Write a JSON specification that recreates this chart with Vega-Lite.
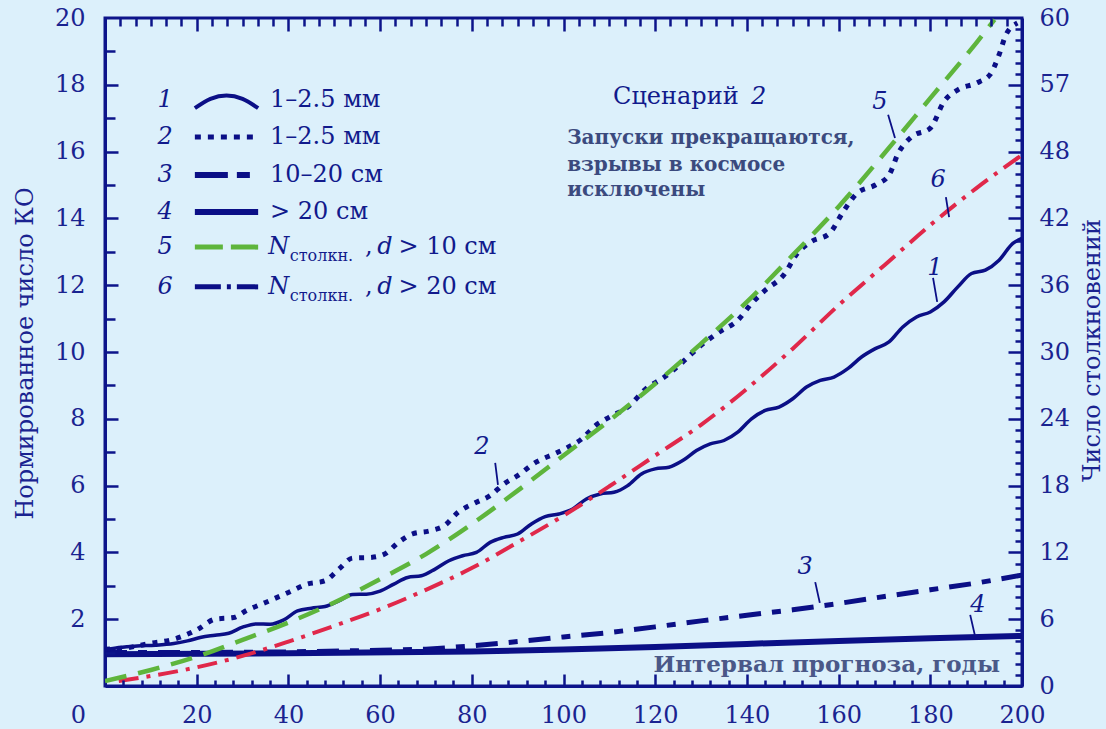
{
  "$schema": "https://vega.github.io/schema/vega-lite/v6.json",
  "width": 917,
  "height": 668,
  "autosize": "none",
  "padding": {"left": 105, "top": 18, "right": 84, "bottom": 43},
  "background": "#dcf0fb",
  "config": {
    "view": {"stroke": "#0d148a", "strokeWidth": 3},
    "text": {"font": "DejaVu Serif", "fill": "#111a8c"},
    "axis": {"labelFont": "DejaVu Serif", "titleFont": "DejaVu Serif", "tickColor": "#0d148a", "tickWidth": 2.5, "tickOpacity": 1, "domainColor": "#0d148a", "domainWidth": 3, "grid": false}
  },
  "datasets": {
    "curves": [
      {"s":1,"x":0,"y":1.08},{"s":1,"x":3,"y":1.15},{"s":1,"x":7,"y":1.2},{"s":1,"x":11,"y":1.22},{"s":1,"x":15,"y":1.27},{"s":1,"x":18,"y":1.35},{"s":1,"x":21,"y":1.46},{"s":1,"x":24,"y":1.52},{"s":1,"x":27,"y":1.58},{"s":1,"x":30,"y":1.76},{"s":1,"x":33,"y":1.86},{"s":1,"x":36,"y":1.85},{"s":1,"x":39,"y":1.98},{"s":1,"x":42,"y":2.25},{"s":1,"x":45,"y":2.33},{"s":1,"x":48,"y":2.38},{"s":1,"x":51,"y":2.55},{"s":1,"x":54,"y":2.74},{"s":1,"x":57,"y":2.75},{"s":1,"x":60,"y":2.84},{"s":1,"x":63,"y":3.05},{"s":1,"x":66,"y":3.25},{"s":1,"x":69,"y":3.3},{"s":1,"x":72,"y":3.5},{"s":1,"x":75,"y":3.75},{"s":1,"x":78,"y":3.9},{"s":1,"x":81,"y":4.0},{"s":1,"x":84,"y":4.3},{"s":1,"x":87,"y":4.45},{"s":1,"x":90,"y":4.55},{"s":1,"x":93,"y":4.85},{"s":1,"x":96,"y":5.07},{"s":1,"x":99,"y":5.15},{"s":1,"x":102,"y":5.3},{"s":1,"x":105,"y":5.6},{"s":1,"x":108,"y":5.75},{"s":1,"x":111,"y":5.8},{"s":1,"x":114,"y":6.0},{"s":1,"x":117,"y":6.35},{"s":1,"x":120,"y":6.5},{"s":1,"x":123,"y":6.55},{"s":1,"x":126,"y":6.75},{"s":1,"x":129,"y":7.05},{"s":1,"x":132,"y":7.25},{"s":1,"x":135,"y":7.35},{"s":1,"x":138,"y":7.6},{"s":1,"x":141,"y":8.0},{"s":1,"x":144,"y":8.25},{"s":1,"x":147,"y":8.35},{"s":1,"x":150,"y":8.6},{"s":1,"x":153,"y":8.95},{"s":1,"x":156,"y":9.15},{"s":1,"x":159,"y":9.25},{"s":1,"x":162,"y":9.5},{"s":1,"x":165,"y":9.85},{"s":1,"x":168,"y":10.1},{"s":1,"x":171,"y":10.3},{"s":1,"x":174,"y":10.75},{"s":1,"x":177,"y":11.05},{"s":1,"x":180,"y":11.2},{"s":1,"x":183,"y":11.5},{"s":1,"x":186,"y":11.95},{"s":1,"x":189,"y":12.35},{"s":1,"x":192,"y":12.45},{"s":1,"x":195,"y":12.75},{"s":1,"x":198,"y":13.25},{"s":1,"x":200,"y":13.4},
      {"s":2,"x":0,"y":1.1},{"s":2,"x":5,"y":1.15},{"s":2,"x":10,"y":1.28},{"s":2,"x":15,"y":1.4},{"s":2,"x":20,"y":1.68},{"s":2,"x":24,"y":2.0},{"s":2,"x":28,"y":2.05},{"s":2,"x":31,"y":2.27},{"s":2,"x":35,"y":2.5},{"s":2,"x":40,"y":2.8},{"s":2,"x":44,"y":3.05},{"s":2,"x":48,"y":3.15},{"s":2,"x":51,"y":3.5},{"s":2,"x":54,"y":3.83},{"s":2,"x":58,"y":3.85},{"s":2,"x":61,"y":3.95},{"s":2,"x":64,"y":4.3},{"s":2,"x":67,"y":4.55},{"s":2,"x":71,"y":4.65},{"s":2,"x":74,"y":4.8},{"s":2,"x":77,"y":5.2},{"s":2,"x":81,"y":5.5},{"s":2,"x":84,"y":5.7},{"s":2,"x":87,"y":6.05},{"s":2,"x":90,"y":6.3},{"s":2,"x":94,"y":6.7},{"s":2,"x":98,"y":6.95},{"s":2,"x":101,"y":7.15},{"s":2,"x":104,"y":7.4},{"s":2,"x":107,"y":7.8},{"s":2,"x":110,"y":8.05},{"s":2,"x":114,"y":8.35},{"s":2,"x":118,"y":8.9},{"s":2,"x":122,"y":9.25},{"s":2,"x":126,"y":9.7},{"s":2,"x":130,"y":10.2},{"s":2,"x":134,"y":10.6},{"s":2,"x":138,"y":10.95},{"s":2,"x":141,"y":11.45},{"s":2,"x":144,"y":11.85},{"s":2,"x":148,"y":12.3},{"s":2,"x":151,"y":12.95},{"s":2,"x":154,"y":13.3},{"s":2,"x":158,"y":13.55},{"s":2,"x":161,"y":14.2},{"s":2,"x":164,"y":14.75},{"s":2,"x":168,"y":15.0},{"s":2,"x":171,"y":15.3},{"s":2,"x":173,"y":15.95},{"s":2,"x":176,"y":16.45},{"s":2,"x":180,"y":16.7},{"s":2,"x":183,"y":17.5},{"s":2,"x":186,"y":17.85},{"s":2,"x":190,"y":18.05},{"s":2,"x":193,"y":18.3},{"s":2,"x":195,"y":18.9},{"s":2,"x":196.5,"y":19.5},{"s":2,"x":199,"y":19.85},
      {"s":3,"x":0,"y":1.0},{"s":3,"x":20,"y":1.0},{"s":3,"x":40,"y":1.02},{"s":3,"x":60,"y":1.07},{"s":3,"x":70,"y":1.1},{"s":3,"x":80,"y":1.2},{"s":3,"x":90,"y":1.33},{"s":3,"x":100,"y":1.47},{"s":3,"x":110,"y":1.6},{"s":3,"x":120,"y":1.77},{"s":3,"x":130,"y":1.95},{"s":3,"x":140,"y":2.12},{"s":3,"x":150,"y":2.28},{"s":3,"x":160,"y":2.47},{"s":3,"x":170,"y":2.68},{"s":3,"x":180,"y":2.88},{"s":3,"x":190,"y":3.08},{"s":3,"x":200,"y":3.32},
      {"s":4,"x":0,"y":0.95},{"s":4,"x":40,"y":0.98},{"s":4,"x":80,"y":1.03},{"s":4,"x":100,"y":1.09},{"s":4,"x":120,"y":1.17},{"s":4,"x":140,"y":1.26},{"s":4,"x":160,"y":1.35},{"s":4,"x":180,"y":1.43},{"s":4,"x":200,"y":1.5},
      {"s":5,"x":0,"y":0.15},{"s":5,"x":10,"y":0.48},{"s":5,"x":20,"y":0.88},{"s":5,"x":30,"y":1.38},{"s":5,"x":40,"y":1.9},{"s":5,"x":50,"y":2.5},{"s":5,"x":60,"y":3.2},{"s":5,"x":70,"y":3.95},{"s":5,"x":80,"y":4.85},{"s":5,"x":90,"y":5.85},{"s":5,"x":100,"y":6.9},{"s":5,"x":110,"y":7.95},{"s":5,"x":120,"y":9.05},{"s":5,"x":130,"y":10.25},{"s":5,"x":140,"y":11.5},{"s":5,"x":150,"y":12.9},{"s":5,"x":160,"y":14.35},{"s":5,"x":170,"y":15.95},{"s":5,"x":180,"y":17.6},{"s":5,"x":190,"y":19.25},{"s":5,"x":194,"y":19.95},
      {"s":6,"x":3,"y":0.15},{"s":6,"x":10,"y":0.3},{"s":6,"x":20,"y":0.56},{"s":6,"x":30,"y":0.9},{"s":6,"x":40,"y":1.33},{"s":6,"x":50,"y":1.8},{"s":6,"x":60,"y":2.3},{"s":6,"x":70,"y":2.88},{"s":6,"x":80,"y":3.53},{"s":6,"x":90,"y":4.3},{"s":6,"x":100,"y":5.1},{"s":6,"x":110,"y":5.98},{"s":6,"x":120,"y":6.9},{"s":6,"x":130,"y":7.82},{"s":6,"x":140,"y":8.9},{"s":6,"x":150,"y":10.1},{"s":6,"x":160,"y":11.4},{"s":6,"x":170,"y":12.6},{"s":6,"x":180,"y":13.8},{"s":6,"x":190,"y":14.9},{"s":6,"x":200,"y":15.9}
    ],
    "legendLines": [
      {"s":1,"x":19.6,"y":17.3},{"s":1,"x":23,"y":17.58},{"s":1,"x":26.5,"y":17.68},{"s":1,"x":30,"y":17.58},{"s":1,"x":33.4,"y":17.3},
      {"s":2,"x":19.6,"y":16.44},{"s":2,"x":33.4,"y":16.44},
      {"s":3,"x":19.6,"y":15.3},{"s":3,"x":33.4,"y":15.3},
      {"s":4,"x":19.6,"y":14.19},{"s":4,"x":33.4,"y":14.19},
      {"s":5,"x":19.6,"y":13.14},{"s":5,"x":33.4,"y":13.14},
      {"s":6,"x":19.6,"y":11.95},{"s":6,"x":33.4,"y":11.95}
    ],
    "italicNums": [
      {"x":13.1,"y":17.54,"t":"1"},{"x":13.1,"y":16.44,"t":"2"},{"x":13.1,"y":15.3,"t":"3"},{"x":13.1,"y":14.19,"t":"4"},{"x":13.1,"y":13.14,"t":"5"},{"x":13.1,"y":11.95,"t":"6"},
      {"x":181.0,"y":12.51,"t":"1"},{"x":82.2,"y":7.16,"t":"2"},{"x":152.7,"y":3.56,"t":"3"},{"x":190.4,"y":2.43,"t":"4"},{"x":169.0,"y":17.49,"t":"5"},{"x":181.7,"y":15.15,"t":"6"}
    ],
    "leaders": [
      {"x":180.6,"y":12.22,"x2":181.5,"y2":11.5},
      {"x":170.8,"y":17.1,"x2":172.3,"y2":16.41},
      {"x":183.4,"y":14.64,"x2":184.1,"y2":14.04},
      {"x":85.1,"y":6.68,"x2":85.7,"y2":6.02},
      {"x":154.9,"y":3.11,"x2":155.9,"y2":2.49},
      {"x":188.7,"y":2.13,"x2":189.7,"y2":1.53}
    ],
    "legendText": [
      {"x":36.0,"y":17.54,"t":"1–2.5 мм"},
      {"x":36.0,"y":16.44,"t":"1–2.5 мм"},
      {"x":36.0,"y":15.3,"t":"10–20 см"},
      {"x":36.0,"y":14.19,"t":"> 20 см"},
      {"x":56.7,"y":13.14,"t":","},
      {"x":64.0,"y":13.14,"t":"> 10 см"},
      {"x":56.7,"y":11.95,"t":","},
      {"x":64.0,"y":11.95,"t":"> 20 см"}
    ],
    "titleText": [
      {"x":110.8,"y":17.63,"t":"Сценарий"}
    ],
    "titleItalic": [
      {"x":140.9,"y":17.63,"t":"2"}
    ],
    "legendItalic": [
      {"x":35.6,"y":13.14,"t":"N"},
      {"x":59.4,"y":13.14,"t":"d"},
      {"x":35.6,"y":11.95,"t":"N"},
      {"x":59.4,"y":11.95,"t":"d"}
    ],
    "legendSub": [
      {"x":40.3,"y":13.14,"t":"столкн."},
      {"x":40.3,"y":11.95,"t":"столкн."}
    ],
    "notes": [
      {"x":100.8,"y":16.41,"t":"Запуски прекращаются,"},
      {"x":100.8,"y":15.6,"t":"взрывы в космосе"},
      {"x":100.8,"y":14.85,"t":"исключены"}
    ],
    "xTitle": [
      {"x":195.2,"y":0.63,"t":"Интервал прогноза, годы"}
    ]
  },
  "layer": [
    {
      "data": {"name": "curves"},
      "encoding": {
        "x": {
          "field": "x", "type": "quantitative",
          "scale": {"domain": [0, 200], "nice": false, "zero": false},
          "axis": {
            "orient": "bottom",
            "values": [0,20,40,60,80,100,120,140,160,180,200],
            "ticks": false,
            "labelFontSize": 24, "labelColor": "#1a2390",
            "labelPadding": 17, "labelBaseline": "top",
            "labelOffset": {"condition": {"test": "datum.value == 0", "value": -27}, "value": 0},
            "labelFlush": false, "labelOverlap": false, "labelBound": false,
            "title": null
          }
        },
        "y": {
          "field": "y", "type": "quantitative",
          "scale": {"domain": [0, 20], "nice": false, "zero": false},
          "axis": {
            "orient": "left",
            "values": [2,4,6,8,10,12,14,16,18,20],
            "ticks": false,
            "labelFontSize": 24, "labelColor": "#1a2390",
            "labelPadding": 20, "labelFlush": false, "labelOverlap": false, "labelBound": false,
            "title": "Нормированное число КО",
            "titleFontSize": 24, "titleFontWeight": "normal",
            "titleColor": "#1a2390", "titleX": -80, "titleY": 335, "titleAlign": "center", "titleBaseline": "middle", "titleAngle": 270
          }
        }
      },
      "layer": [
        {"transform": [{"filter": "datum.s == 4"}], "mark": {"type": "line", "stroke": "#0b0f86", "strokeWidth": 6}},
        {"transform": [{"filter": "datum.s == 3"}], "mark": {"type": "line", "stroke": "#0b0f86", "strokeWidth": 5, "strokeDash": [22, 11, 9, 11]}},
        {"transform": [{"filter": "datum.s == 1"}], "mark": {"type": "line", "stroke": "#0b0f86", "strokeWidth": 3.5, "interpolate": "monotone"}},
        {"transform": [{"filter": "datum.s == 2"}], "mark": {"type": "line", "stroke": "#0b0f86", "strokeWidth": 5, "strokeDash": [5, 7], "interpolate": "monotone"}},
        {"transform": [{"filter": "datum.s == 6"}], "mark": {"type": "line", "stroke": "#e0284a", "strokeWidth": 4, "strokeDash": [20, 8, 4, 8], "interpolate": "monotone"}},
        {"transform": [{"filter": "datum.s == 5"}], "mark": {"type": "line", "stroke": "#5eb53c", "strokeWidth": 4.5, "strokeDash": [22, 12], "interpolate": "monotone", "clip": true}},
        {"data": {"name": "legendLines"}, "transform": [{"filter": "datum.s == 1"}], "mark": {"type": "line", "stroke": "#0b0f86", "strokeWidth": 4, "interpolate": "monotone"}},
        {"data": {"name": "legendLines"}, "transform": [{"filter": "datum.s == 2"}], "mark": {"type": "line", "stroke": "#0b0f86", "strokeWidth": 5, "strokeDash": [6, 7]}},
        {"data": {"name": "legendLines"}, "transform": [{"filter": "datum.s == 3"}], "mark": {"type": "line", "stroke": "#0b0f86", "strokeWidth": 6, "strokeDash": [33, 9, 13, 100]}},
        {"data": {"name": "legendLines"}, "transform": [{"filter": "datum.s == 4"}], "mark": {"type": "line", "stroke": "#0b0f86", "strokeWidth": 6}},
        {"data": {"name": "legendLines"}, "transform": [{"filter": "datum.s == 5"}], "mark": {"type": "line", "stroke": "#5eb53c", "strokeWidth": 5, "strokeDash": [28, 8]}},
        {"data": {"name": "legendLines"}, "transform": [{"filter": "datum.s == 6"}], "mark": {"type": "line", "stroke": "#0b0f86", "strokeWidth": 5, "strokeDash": [26, 6, 4, 6]}},
        {"data": {"name": "leaders"}, "mark": {"type": "rule", "stroke": "#0b0f86", "strokeWidth": 1.8},
         "encoding": {"x2": {"field": "x2"}, "y2": {"field": "y2"}}},
        {"data": {"name": "italicNums"}, "mark": {"type": "text", "fontStyle": "italic", "fontSize": 24, "align": "center", "baseline": "middle", "fill": "#111a8c"},
         "encoding": {"text": {"field": "t"}}},
        {"data": {"name": "legendText"}, "mark": {"type": "text", "fontSize": 24, "align": "left", "baseline": "middle", "fill": "#111a8c"},
         "encoding": {"text": {"field": "t"}}},
        {"data": {"name": "titleText"}, "mark": {"type": "text", "fontSize": 24, "align": "left", "baseline": "middle", "fill": "#111a8c"},
         "encoding": {"text": {"field": "t"}}},
        {"data": {"name": "titleItalic"}, "mark": {"type": "text", "fontSize": 24, "fontStyle": "italic", "align": "left", "baseline": "middle", "fill": "#111a8c"},
         "encoding": {"text": {"field": "t"}}},
        {"data": {"name": "legendItalic"}, "mark": {"type": "text", "fontStyle": "italic", "fontSize": 24, "align": "left", "baseline": "middle", "fill": "#111a8c"},
         "encoding": {"text": {"field": "t"}}},
        {"data": {"name": "legendSub"}, "mark": {"type": "text", "fontSize": 16, "align": "left", "baseline": "middle", "dy": 9, "fill": "#111a8c"},
         "encoding": {"text": {"field": "t"}}},
        {"data": {"name": "notes"}, "mark": {"type": "text", "fontSize": 20, "fontWeight": "bold", "align": "left", "baseline": "middle", "fill": "#3b4a7e"},
         "encoding": {"text": {"field": "t"}}},
        {"data": {"name": "xTitle"}, "mark": {"type": "text", "fontSize": 23, "fontWeight": "bold", "align": "right", "baseline": "middle", "fill": "#4a5888"},
         "encoding": {"text": {"field": "t"}}}
      ]
    },
    {
      "data": {"name": "curves"},
      "mark": {"type": "point", "opacity": 0},
      "encoding": {
        "x": {
          "field": "x", "type": "quantitative",
          "scale": {"domain": [0, 200], "nice": false, "zero": false},
          "axis": {
            "orient": "top", "offset": -668, "zindex": 2,
            "values": [4,8,12,16,24,28,32,36,44,48,52,56,64,68,72,76,84,88,92,96,104,108,112,116,124,128,132,136,144,148,152,156,164,168,172,176,184,188,192,196],
            "labels": false, "domain": false, "ticks": true, "tickSize": 6, "title": null
          }
        },
        "y": {
          "field": "y", "type": "quantitative",
          "scale": {"domain": [0, 60], "nice": false, "zero": false},
          "axis": {
            "orient": "right",
            "values": [0,6,12,18,24,30,36,42,48,54,60],
            "labelExpr": "datum.value == 54 ? '57' : datum.label",
            "ticks": false,
            "labelFontSize": 24, "labelColor": "#1a2390",
            "labelPadding": 17, "labelFlush": false, "labelOverlap": false, "labelBound": false,
            "title": "Число столкновений",
            "titleFontSize": 24, "titleFontWeight": "normal",
            "titleColor": "#1a2390", "titleAngle": 270, "titleX": 70, "titleY": 332, "titleAlign": "center", "titleBaseline": "middle"
          }
        }
      }
    },
    {
      "data": {"name": "curves"},
      "mark": {"type": "point", "opacity": 0},
      "encoding": {
        "x": {
          "field": "x", "type": "quantitative",
          "scale": {"domain": [0, 200], "nice": false, "zero": false},
          "axis": {
            "orient": "top", "offset": -668, "zindex": 2,
            "values": [20,40,60,80,100,120,140,160,180],
            "labels": false, "domain": false, "ticks": true, "tickSize": 12, "title": null
          }
        },
        "y": {
          "field": "y", "type": "quantitative",
          "scale": {"domain": [0, 20], "nice": false, "zero": false},
          "axis": {
            "orient": "right", "offset": -917, "zindex": 2,
            "values": [1,3,5,7,9,11,13,15,17,19],
            "labels": false, "domain": false, "ticks": true, "tickSize": 10, "title": null
          }
        }
      }
    },
    {
      "data": {"name": "curves"},
      "mark": {"type": "point", "opacity": 0},
      "encoding": {
        "x": {
          "field": "x", "type": "quantitative",
          "scale": {"domain": [0, 200], "nice": false, "zero": false},
          "axis": {
            "orient": "bottom", "offset": -668, "zindex": 2,
            "values": [3.333,6.667,10,13.333,16.667,23.333,26.667,30,33.333,36.667,43.333,46.667,50,53.333,56.667,63.333,66.667,70,73.333,76.667,83.333,86.667,90,93.333,96.667,103.333,106.667,110,113.333,116.667,123.333,126.667,130,133.333,136.667,143.333,146.667,150,153.333,156.667,163.333,166.667,170,173.333,176.667,183.333,186.667,190,193.333,196.667],
            "labels": false, "domain": false, "ticks": true, "tickSize": 8, "title": null
          }
        },
        "y": {
          "field": "y", "type": "quantitative",
          "scale": {"domain": [0, 20], "nice": false, "zero": false},
          "axis": {
            "orient": "right", "offset": -917, "zindex": 2,
            "values": [2,4,6,8,10,12,14,16,18],
            "labels": false, "domain": false, "ticks": true, "tickSize": 13, "title": null
          }
        }
      }
    },
    {
      "data": {"name": "curves"},
      "mark": {"type": "point", "opacity": 0},
      "encoding": {
        "x": {
          "field": "x", "type": "quantitative",
          "scale": {"domain": [0, 200], "nice": false, "zero": false},
          "axis": {
            "orient": "bottom", "offset": -668, "zindex": 2,
            "values": [20,40,60,80,100,120,140,160,180],
            "labels": false, "domain": false, "ticks": true, "tickSize": 13, "title": null
          }
        },
        "y": {
          "field": "y", "type": "quantitative",
          "scale": {"domain": [0, 60], "nice": false, "zero": false},
          "axis": {
            "orient": "left", "offset": -917, "zindex": 2,
            "values": [1,2,3,4,5,7,8,9,10,11,13,14,15,16,17,19,20,21,22,23,25,26,27,28,29,31,32,33,34,35,37,38,39,40,41,43,44,45,46,47,49,50,51,52,53,55,56,57,58,59],
            "labels": false, "domain": false, "ticks": true, "tickSize": 7, "title": null
          }
        }
      }
    },
    {
      "data": {"name": "curves"},
      "mark": {"type": "point", "opacity": 0},
      "encoding": {
        "x": {
          "field": "x", "type": "quantitative",
          "scale": {"domain": [0, 200], "nice": false, "zero": false},
          "axis": null
        },
        "y": {
          "field": "y", "type": "quantitative",
          "scale": {"domain": [0, 60], "nice": false, "zero": false},
          "axis": {
            "orient": "left", "offset": -917, "zindex": 2,
            "values": [6,12,18,24,30,36,42,48,54],
            "labels": false, "domain": false, "ticks": true, "tickSize": 14, "title": null
          }
        }
      }
    }
  ],
  "resolve": {"scale": {"y": "independent"}, "axis": {"x": "independent", "y": "independent"}}
}
